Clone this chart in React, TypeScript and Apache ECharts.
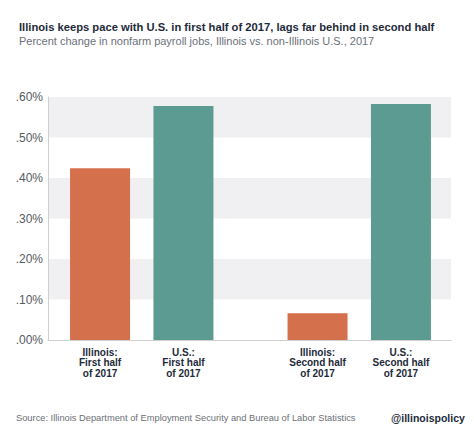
import React, { useEffect, useRef } from 'react';
import * as echarts from 'echarts';

const periods = ['First half', 'Second half'];
const illinoisValues = [0.424, 0.066];
const usValues = [0.578, 0.583];
const seriesNames = ['Illinois', 'U.S.'];
const titleText = 'Illinois keeps pace with U.S. in first half of 2017, lags far behind in second half';
const subtitleText = 'Percent change in nonfarm payroll jobs, Illinois vs. non-Illinois U.S., 2017';
const sourceText = 'Source: Illinois Department of Employment Security and Bureau of Labor Statistics';
const handleText = '@illinoispolicy';

const FONT = '"Liberation Sans", Arial, Helvetica, sans-serif';

export default function App() {
  const ref = useRef<HTMLDivElement>(null);
  useEffect(() => {
    if (!ref.current) return;
    const chart = echarts.init(ref.current, undefined, { renderer: 'svg' });
    const labelStyle = {
      show: true,
      position: 'bottom' as const,
      distance: 7,
      fontFamily: FONT,
      fontSize: 10,
      fontWeight: 'bold' as const,
      lineHeight: 10.5,
      color: '#1d2a3a',
      align: 'center' as const,
    };
    chart.setOption({
      animation: false,
      backgroundColor: '#ffffff',
      textStyle: { fontFamily: FONT },
      grid: [
        { left: 48, right: 23, top: 97, bottom: 95 },
        { left: 33, right: 6, top: 97, bottom: 95 },
      ],
      xAxis: [
        {
          gridIndex: 0,
          type: 'value',
          min: 0,
          max: 1,
          axisLine: { show: true, onZero: false, lineStyle: { color: '#cfcfcf', width: 1 } },
          axisTick: { show: false },
          axisLabel: { show: false },
          splitLine: { show: false },
        },
        {
          gridIndex: 1,
          type: 'category',
          data: periods,
          show: false,
        },
      ],
      yAxis: [
        {
          gridIndex: 0,
          type: 'value',
          min: 0,
          max: 0.6,
          interval: 0.1,
          axisLine: { show: true, lineStyle: { color: '#cfcfcf', width: 1 } },
          axisTick: { show: false },
          splitLine: { show: false },
          splitArea: { show: true, areaStyle: { color: ['#ffffff', '#f0f0f2'] } },
          axisLabel: {
            fontFamily: FONT,
            fontSize: 12,
            color: '#555a60',
            margin: 5,
            padding: [6, 0, 0, 0],
            formatter: (v: number) => '.' + (v * 100).toFixed(0).padStart(2, '0') + '%',
          },
        },
        {
          gridIndex: 1,
          type: 'value',
          min: 0,
          max: 0.6,
          show: false,
        },
      ],
      series: [
        {
          name: seriesNames[0],
          type: 'bar',
          xAxisIndex: 1,
          yAxisIndex: 1,
          data: illinoisValues,
          barWidth: 60,
          barGap: '39%',
          itemStyle: { color: '#d4704c' },
          label: {
            ...labelStyle,
            formatter: (p: any) => `${seriesNames[0]}:\n${p.name}\nof 2017`,
          },
        },
        {
          name: seriesNames[1],
          type: 'bar',
          xAxisIndex: 1,
          yAxisIndex: 1,
          data: usValues,
          barWidth: 60,
          barGap: '39%',
          itemStyle: { color: '#5b9b91' },
          label: {
            ...labelStyle,
            formatter: (p: any) => `${seriesNames[1]}:\n${p.name}\nof 2017`,
          },
        },
      ],
      graphic: [
        {
          type: 'text',
          left: 19,
          top: 21,
          style: {
            text: titleText,
            fontFamily: FONT,
            fontSize: 11.2,
            fontWeight: 'bold',
            fill: '#1d2a3a',
          },
        },
        {
          type: 'text',
          left: 19,
          top: 35,
          style: {
            text: subtitleText,
            fontFamily: FONT,
            fontSize: 11,
            fill: '#6b7079',
          },
        },
        {
          type: 'text',
          left: 16,
          top: 413,
          style: {
            text: sourceText,
            fontFamily: FONT,
            fontSize: 9.3,
            fill: '#6b6f75',
          },
        },
        {
          type: 'text',
          left: 391,
          top: 412,
          style: {
            text: handleText,
            fontFamily: FONT,
            fontSize: 10.5,
            fontWeight: 'bold',
            fill: '#1d2a3a',
          },
        },
      ],
    });
    return () => chart.dispose();
  }, []);
  return (
    <div
      ref={ref}
      style={{ position: 'fixed', left: 0, top: 0, width: 474, height: 435 }}
    />
  );
}
